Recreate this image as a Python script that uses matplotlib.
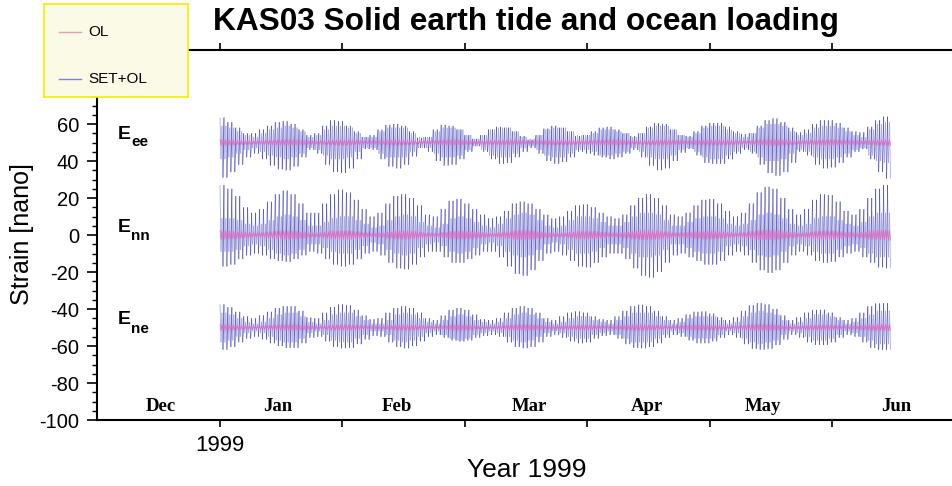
import numpy as np
import matplotlib
matplotlib.use('Agg')
import matplotlib.pyplot as plt
from matplotlib.ticker import MultipleLocator
from matplotlib.collections import LineCollection

plt.rcParams['font.family'] = ['Liberation Sans', 'DejaVu Sans']
plt.rcParams['axes.unicode_minus'] = False

# sample start days (days since 1 Jan 1999), each sample holds 2 days of tide
days = list(range(0, 170, 2))

# E_ee  SET+OL upper / lower extremes and inner (second tide) half-width
ee_hi = [63.5, 61, 58, 55, 55, 57, 59, 61, 61.5, 60,
         57, 54, 55, 59, 62, 61.5, 59, 56, 53, 54,
         57, 59.5, 60, 59, 56, 52.5, 53, 57, 59.5, 59,
         57, 54, 52, 54, 57, 58.5, 58, 56, 53.5, 51.5,
         54, 57.5, 59, 58, 56, 53.5, 54, 56, 58, 58.5,
         57, 55, 53.5, 55, 58.5, 60.5, 60, 57, 54, 53.5,
         56, 59, 60.5, 60.5, 58.5, 56, 54.5, 55, 59, 62,
         63, 61, 58, 55.5, 57, 60, 62, 62, 60.5, 58,
         56, 55.5, 58.5, 62, 64]
ee_lo = [31, 34, 38, 42, 44, 41, 37.5, 35.5, 35, 37,
         42, 46, 44, 38, 34, 33.5, 36, 41, 46.5, 46,
         41, 37, 36, 38, 42.5, 47, 45, 40, 37.5, 38,
         41, 45, 48, 45, 41, 38.5, 39, 42, 45, 47,
         44, 40, 38.5, 39.5, 42, 45, 44, 43, 42, 41,
         42, 44, 46, 42, 37.5, 35, 36, 40, 44.5, 46.5,
         43, 39, 38.5, 38.5, 41, 44, 46, 44, 38, 33.5,
         32, 34, 39, 45, 43, 38, 36, 36.5, 39, 42,
         45, 46.5, 41, 34, 30.5]
ee_band = [9, 8, 6, 4, 3, 5, 7, 8, 9, 8,
           6, 3, 4, 7, 9, 9, 8, 5, 3, 3,
           6, 8, 8, 8, 5, 3, 3, 6, 8, 8,
           7, 4, 2, 4, 7, 8, 8, 6, 3, 2,
           4, 7, 8, 8, 6, 4, 4, 5, 7, 7,
           6, 5, 3, 5, 8, 9, 9, 7, 4, 3,
           5, 8, 9, 9, 7, 5, 3, 5, 8, 10,
           10, 9, 6, 4, 5, 8, 9, 9, 8, 6,
           4, 3, 7, 10, 11]

# E_nn
nn_hi = [27, 25, 21, 15, 12, 14, 18, 22, 24, 22,
         17, 12, 12, 17, 22, 24.5, 23, 19, 14, 10,
         12, 17, 21, 22, 20, 16, 11, 10, 14, 18.5,
         19.5, 17, 14, 11, 9, 10, 13, 17, 18, 17,
         14, 11, 9, 10, 13, 16, 16.5, 15, 12, 10,
         9, 11, 16, 20, 22, 20, 16, 11, 10, 12,
         16, 19, 19.5, 17, 13, 10, 12, 17, 23, 26,
         25, 20, 14, 11, 14, 19, 22, 21.5, 18, 13,
         11, 14, 20, 25, 27]
nn_lo = [-17, -16, -13, -11, -10, -11, -13, -14, -14.5, -13,
         -11, -9, -10, -13, -16, -17, -16, -13, -10, -9,
         -11, -15, -18, -18.5, -16, -12, -9, -9, -12, -15,
         -15, -13, -11, -9, -9, -12, -17, -21, -22, -19,
         -14, -10, -9, -11, -14, -17, -17.5, -15, -12, -10,
         -10, -13, -18, -22, -23, -20, -15, -11, -10, -12,
         -14, -16, -16, -14, -11, -9, -11, -15, -19, -20.5,
         -19, -15, -11, -9, -11, -14, -15, -14.5, -12, -10,
         -9, -12, -15, -17.5, -18]
nn_band = [9, 9, 8, 6, 5, 6, 8, 10, 11, 10,
           8, 5, 5, 7, 9, 10, 10, 8, 6, 4,
           5, 8, 10, 11, 10, 7, 5, 4, 6, 9,
           10, 9, 7, 5, 4, 6, 9, 11, 12, 11,
           8, 5, 4, 5, 8, 10, 10, 9, 7, 5,
           5, 7, 10, 12, 12, 11, 8, 5, 5, 7,
           9, 10, 10, 9, 6, 5, 6, 8, 11, 12,
           11, 9, 6, 5, 6, 9, 10, 10, 8, 6,
           5, 7, 10, 12, 12]

# E_ne
ne_hi = [-37.5, -39, -41.5, -44, -45, -43.5, -41.5, -39.5, -38.5, -38.5,
         -41, -44.5, -45, -42, -39, -37.5, -38, -40.5, -43.5, -45.5,
         -45, -42, -39.5, -38.5, -39.5, -42, -45, -46, -43.5, -40.5,
         -39.5, -40.5, -43, -45.5, -46, -45, -42, -39.5, -38.5, -39.5,
         -42, -45, -46, -44, -42, -41.3, -42, -44, -45.5, -46,
         -44, -41, -38.5, -37.7, -38.5, -41, -44, -46, -45, -43,
         -41.5, -41.3, -42.5, -44.5, -46, -44.5, -41, -38, -36.8, -37.5,
         -40, -43.5, -46, -44.5, -42, -40.5, -40.4, -42, -44.5, -46,
         -45, -42, -38.5, -37, -36.8]
ne_lo = [-62, -60.5, -58, -56, -55, -56.5, -58.5, -60, -61, -61,
         -58.5, -55.5, -55, -57.5, -60.5, -61.2, -61, -59, -56.5, -54.5,
         -55, -58, -60.5, -61.2, -60, -57.5, -55, -54, -55.5, -57,
         -57.6, -57, -55.5, -54.5, -54, -55, -58, -60.5, -61.2, -60.5,
         -58, -55, -54, -55.5, -57.5, -58.5, -58, -56, -54.5, -54,
         -56, -59, -61, -61.2, -60.5, -58.5, -55.5, -54, -55, -57,
         -58.5, -58.5, -57.5, -55.5, -54, -55.5, -59, -61.5, -62, -61.5,
         -59.5, -56.5, -54, -55.5, -58, -59.4, -59.4, -58, -55.5, -54,
         -55, -58, -61, -62, -62]
ne_band = [8, 7, 5, 3, 2, 3, 5, 7, 8, 8,
           6, 3, 2, 4, 7, 8, 8, 6, 4, 2,
           2, 4, 7, 8, 7, 5, 3, 2, 4, 6,
           7, 6, 4, 3, 2, 3, 5, 7, 8, 7,
           5, 3, 2, 3, 5, 6, 6, 4, 3, 2,
           4, 6, 8, 8, 8, 6, 4, 2, 3, 5,
           6, 6, 6, 4, 2, 3, 6, 8, 9, 8,
           7, 4, 2, 3, 5, 7, 7, 6, 4, 2,
           3, 5, 7, 9, 9]

# OL amplitude (nano strain) around each baseline
ol_ee = [1.6, 1.5, 1.3, 1.1, 1.0, 1.1, 1.3, 1.5, 1.6, 1.5,
         1.2, 1.0, 1.0, 1.3, 1.5, 1.6, 1.5, 1.2, 1.0, 1.0,
         1.1, 1.4, 1.5, 1.4, 1.2, 1.0, 1.0, 1.2, 1.4, 1.4,
         1.3, 1.1, 1.0, 1.1, 1.3, 1.4, 1.4, 1.2, 1.0, 1.0,
         1.1, 1.3, 1.4, 1.4, 1.2, 1.0, 1.1, 1.2, 1.3, 1.4,
         1.3, 1.2, 1.0, 1.1, 1.4, 1.5, 1.5, 1.3, 1.1, 1.0,
         1.2, 1.4, 1.5, 1.5, 1.4, 1.2, 1.0, 1.1, 1.4, 1.6,
         1.7, 1.5, 1.2, 1.0, 1.2, 1.4, 1.6, 1.6, 1.4, 1.2,
         1.1, 1.0, 1.3, 1.6, 1.7]
ol_nn = [2.4, 2.2, 1.9, 1.5, 1.2, 1.4, 1.8, 2.2, 2.4, 2.2,
         1.8, 1.2, 1.2, 1.7, 2.2, 2.4, 2.3, 1.9, 1.4, 1.1,
         1.2, 1.8, 2.2, 2.4, 2.2, 1.7, 1.2, 1.1, 1.5, 2.0,
         2.3, 2.2, 1.8, 1.4, 1.1, 1.4, 1.9, 2.4, 2.6, 2.4,
         1.9, 1.4, 1.1, 1.2, 1.7, 2.2, 2.3, 2.0, 1.6, 1.2,
         1.2, 1.6, 2.2, 2.7, 2.7, 2.4, 1.9, 1.4, 1.2, 1.6,
         2.0, 2.3, 2.3, 2.0, 1.5, 1.2, 1.5, 2.0, 2.6, 2.7,
         2.6, 2.0, 1.5, 1.2, 1.5, 2.0, 2.3, 2.3, 1.9, 1.5,
         1.2, 1.6, 2.3, 2.7, 2.8]
ol_ne = [1.6, 1.5, 1.2, 1.0, 0.8, 1.0, 1.2, 1.5, 1.6, 1.6,
         1.3, 1.0, 0.8, 1.1, 1.5, 1.6, 1.5, 1.3, 1.0, 0.8,
         0.8, 1.1, 1.5, 1.6, 1.5, 1.2, 0.9, 0.8, 1.0, 1.4,
         1.5, 1.4, 1.1, 0.9, 0.8, 1.0, 1.3, 1.5, 1.6, 1.5,
         1.2, 0.9, 0.8, 1.0, 1.2, 1.4, 1.4, 1.1, 0.9, 0.8,
         1.0, 1.3, 1.6, 1.7, 1.6, 1.3, 1.0, 0.8, 1.0, 1.2,
         1.4, 1.5, 1.4, 1.2, 0.9, 1.0, 1.3, 1.6, 1.8, 1.7,
         1.5, 1.1, 0.8, 1.0, 1.3, 1.5, 1.5, 1.3, 1.0, 0.8,
         0.9, 1.2, 1.6, 1.8, 1.8]

baselines = {'ee': 50, 'nn': 0, 'ne': -50}
months = ['Dec', 'Jan', 'Feb', 'Mar', 'Apr', 'May', 'Jun']


def tide_line(hi, lo_in, hi_in, lo):
    # each day of a 2-day sample: high, low, high, low (semidiurnal, unequal)
    one_day = np.column_stack([hi, lo_in, hi_in, lo])
    y = np.hstack([one_day, one_day]).ravel()
    t = np.repeat(days, 8) + np.tile(np.arange(8) * 0.25, len(days))
    return t, y


def add_tide(ax, t, y, light, dark, lw):
    pts = np.column_stack([t, y])
    segs = np.stack([pts[:-1], pts[1:]], axis=1)
    big = np.arange(len(segs)) % 4 == 3      # low -> next high swing
    ax.add_collection(LineCollection(segs[~big], colors=light, linewidths=lw))
    ax.add_collection(LineCollection(segs[big], colors=dark, linewidths=lw))


fig = plt.figure(figsize=(9.53, 4.86), dpi=100)
ax = fig.add_axes([97/953, 66/486, 863/953, 370/486])

for key, hi, lo, band in [('ee', ee_hi, ee_lo, ee_band),
                          ('nn', nn_hi, nn_lo, nn_band),
                          ('ne', ne_hi, ne_lo, ne_band)]:
    base = baselines[key]
    b = np.array(band)
    t, y = tide_line(hi, base - b, base + b, lo)
    add_tide(ax, t, y, '#a4a4e2', '#4040b4', 0.55)

for key, amp in [('ee', ol_ee), ('nn', ol_nn), ('ne', ol_ne)]:
    base = baselines[key]
    a = np.array(amp)
    t, y = tide_line(base + a, base - a, base + a, base - a)
    ax.plot(t, y, color='#dc6cc4', lw=0.5)

ax.set_xlim(-31.14, 187.34)
ax.set_ylim(-100, 100)

ax.set_xticks([0, 31, 62, 93, 124, 155, 186])
ax.set_xticklabels(['1999', '', '', '', '', '', ''])
ax.tick_params(axis='x', which='major', direction='out', length=5, width=1.2,
               top=True, labelsize=16, pad=6)
ax.set_yticks(range(-100, 101, 20))
ax.yaxis.set_minor_locator(MultipleLocator(5))
ax.tick_params(axis='y', which='major', direction='out', length=7, width=1.2,
               labelsize=14.5, pad=6)
ax.tick_params(axis='y', which='minor', direction='out', length=3.5, width=1)
ax.spines['right'].set_visible(False)
for s in ['left', 'bottom', 'top']:
    ax.spines[s].set_linewidth(1.5)

# component labels
for lab, sub, ye, ys in [('E', 'ee', 54.2, 50.4), ('E', 'nn', 3.9, -0.7),
                         ('E', 'ne', -45.8, -50.7)]:
    ax.text(-25.8, ye, lab, fontsize=14, fontweight='bold', va='center', ha='left')
    ax.text(-22.5, ys, sub, fontsize=11, fontweight='bold', va='center', ha='left')

month_x = [-15, 14.7, 44.8, 78.2, 108.1, 137.5, 171.1]
for m, mx in zip(months, month_x):
    ax.text(mx, -92.5, m, fontsize=13.5, fontweight='bold', ha='center', va='center',
            family=['Liberation Serif', 'DejaVu Serif'])

fig.text(213/953, 1 - 22/486, 'KAS03 Solid earth tide and ocean loading',
         fontsize=22.8, fontweight='bold', ha='left', va='center')
fig.text(22/953, 1 - 234/486, 'Strain [nano]', fontsize=18, rotation=90,
         ha='center', va='center')
fig.text(527/953, 1 - 470/486, 'Year 1999', fontsize=19, ha='center', va='center')

# legend box
lax = fig.add_axes([44/953, 1 - 97/486, 144/953, 93/486])
lax.set_zorder(5)
lax.set_facecolor('#fafae6')
for s in lax.spines.values():
    s.set_edgecolor('#f2f000')
    s.set_linewidth(1.2)
lax.set_xticks([])
lax.set_yticks([])
lax.set_xlim(0, 1)
lax.set_ylim(0, 1)
lax.plot([0.104, 0.257], [0.70, 0.70], color='#e0a0c0', lw=1)
lax.text(0.306, 0.70, 'OL', fontsize=11, va='center', ha='left')
lax.plot([0.104, 0.257], [0.194, 0.194], color='#8080d8', lw=1)
lax.text(0.306, 0.194, 'SET+OL', fontsize=11, va='center', ha='left')

fig.savefig('out.png', dpi=100)
